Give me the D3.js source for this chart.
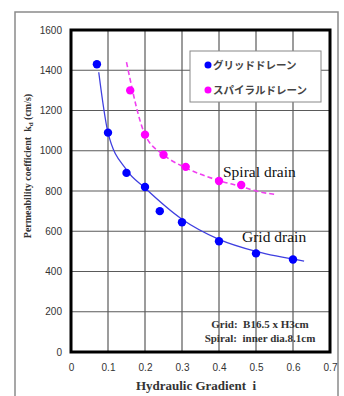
<!DOCTYPE html>
<html>
<head>
<meta charset="utf-8">
<script src="https://cdn.jsdelivr.net/npm/d3@7"></script>
<style>
  body { margin: 0; background: #fff; }
  svg { display: block; }
</style>
</head>
<body>
<script>
// Measured points
const gridX = [0.07, 0.1, 0.15, 0.2, 0.24, 0.3, 0.4, 0.5, 0.6];
const gridK = [1430, 1090, 890, 820, 700, 645, 550, 490, 460];
const spiralX = [0.16, 0.2, 0.25, 0.31, 0.4, 0.46];
const spiralK = [1300, 1080, 980, 920, 850, 830];

// Trend curves
const gridFitX = [0.075, 0.1, 0.15, 0.2, 0.3, 0.4, 0.5, 0.63];
const gridFitK = [1390, 1090, 905, 815, 660, 560, 500, 452];
const spiralFitX = [0.15, 0.2, 0.25, 0.31, 0.4, 0.46, 0.5, 0.555];
const spiralFitK = [1440, 1080, 980, 915, 852, 822, 800, 782];

const xTicks = [0, 0.1, 0.2, 0.3, 0.4, 0.5, 0.6, 0.7];
const yTicks = [0, 200, 400, 600, 800, 1000, 1200, 1400, 1600];
const legendNames = ["グリッドドレーン", "スパイラルドレーン"];
const colors = ["#0000ff", "#ff00ff"];

const w = 344, h = 396;
const pLeft = 71, pRight = 330, pTop = 30, pBottom = 352;

const svg = d3.select("body").append("svg")
  .attr("width", w)
  .attr("height", h);

// outer frame
svg.append("rect")
  .attr("x", 15).attr("y", 12)
  .attr("width", 323).attr("height", 390)
  .attr("fill", "#fff")
  .attr("stroke", "#8a8a8a")
  .attr("stroke-width", 1.5);

const xScale = d3.scaleLinear().domain([0, 0.7]).range([pLeft, pRight]);
const yScale = d3.scaleLinear().domain([0, 1600]).range([pBottom, pTop]);

// gridlines
svg.append("g").selectAll("line")
  .data(xTicks.slice(1, -1))
  .enter().append("line")
  .attr("x1", d => xScale(d)).attr("x2", d => xScale(d))
  .attr("y1", pTop).attr("y2", pBottom)
  .attr("stroke", "#5a5a5a").attr("stroke-width", 1.2);

svg.append("g").selectAll("line")
  .data(yTicks.slice(1, -1))
  .enter().append("line")
  .attr("x1", pLeft).attr("x2", pRight)
  .attr("y1", d => yScale(d)).attr("y2", d => yScale(d))
  .attr("stroke", "#5a5a5a").attr("stroke-width", 1.2);

// axes labels
const xAxis = d3.axisBottom(xScale).tickValues(xTicks).tickSize(0).tickPadding(12)
  .tickFormat(d => d === 0 ? "0" : d3.format(".1f")(d));
const yAxis = d3.axisLeft(yScale).tickValues(yTicks).tickSize(0).tickPadding(9)
  .tickFormat(d3.format("d"));

const gx = svg.append("g").attr("transform", `translate(0,${pBottom})`).call(xAxis);
const gy = svg.append("g").attr("transform", `translate(${pLeft},0)`).call(yAxis);
[gx, gy].forEach(g => {
  g.select(".domain").remove();
  g.selectAll("text")
    .style("font-family", "Arial, 'Liberation Sans', sans-serif")
    .style("font-size", "10px")
    .style("fill", "#333");
});

// legend box
const legend = svg.append("g");
legend.append("rect")
  .attr("x", 190).attr("y", 51)
  .attr("width", 131).attr("height", 51)
  .attr("fill", "#fff")
  .attr("stroke", "#888")
  .attr("stroke-width", 1);
legendNames.forEach((name, i) => {
  legend.append("circle")
    .attr("cx", 208).attr("cy", 65 + i * 25)
    .attr("r", 3.5)
    .attr("fill", colors[i]);
  legend.append("text")
    .attr("x", 213).attr("y", 69 + i * 25)
    .text(name)
    .style("font-family", "'Noto Sans CJK JP', sans-serif")
    .style("font-size", "10.5px")
    .style("font-weight", "bold")
    .style("fill", "#444");
});

// trend curves
const line = d3.line()
  .x(d => xScale(d[0]))
  .y(d => yScale(d[1]))
  .curve(d3.curveMonotoneX);

svg.append("path")
  .attr("d", line(d3.zip(gridFitX, gridFitK)))
  .attr("fill", "none")
  .attr("stroke", "#3f3fe0")
  .attr("stroke-width", 1.3);

svg.append("path")
  .attr("d", line(d3.zip(spiralFitX, spiralFitK)))
  .attr("fill", "none")
  .attr("stroke", "#f040f0")
  .attr("stroke-width", 1.6)
  .attr("stroke-dasharray", "5,3");

// points
svg.append("g").selectAll("circle")
  .data(d3.zip(gridX, gridK))
  .enter().append("circle")
  .attr("cx", d => xScale(d[0]))
  .attr("cy", d => yScale(d[1]))
  .attr("r", 4.2)
  .attr("fill", colors[0]);

svg.append("g").selectAll("circle")
  .data(d3.zip(spiralX, spiralK))
  .enter().append("circle")
  .attr("cx", d => xScale(d[0]))
  .attr("cy", d => yScale(d[1]))
  .attr("r", 4.2)
  .attr("fill", colors[1]);

// plot border
svg.append("rect")
  .attr("x", pLeft).attr("y", pTop)
  .attr("width", pRight - pLeft).attr("height", pBottom - pTop)
  .attr("fill", "none")
  .attr("stroke", "#000")
  .attr("stroke-width", 3);

// annotations
const serif = "'Liberation Serif', 'DejaVu Serif', serif";
svg.append("text")
  .attr("x", 223).attr("y", 177)
  .text("Spiral drain")
  .style("font-family", serif).style("font-size", "15.5px").style("fill", "#111");
svg.append("text")
  .attr("x", 242).attr("y", 242)
  .text("Grid drain")
  .style("font-family", serif).style("font-size", "15.5px").style("fill", "#111");

svg.append("text")
  .attr("x", 260).attr("y", 328)
  .attr("text-anchor", "middle")
  .style("white-space", "pre")
  .text("Grid:  B16.5 x H3cm")
  .style("font-family", serif).style("font-size", "11px").style("font-weight", "bold")
  .style("fill", "#333");
svg.append("text")
  .attr("x", 260).attr("y", 342)
  .attr("text-anchor", "middle")
  .style("white-space", "pre")
  .text("Spiral:  inner dia.8.1cm")
  .style("font-family", serif).style("font-size", "11px").style("font-weight", "bold")
  .style("fill", "#333");

// axis titles
svg.append("text")
  .attr("x", 196).attr("y", 390)
  .attr("text-anchor", "middle")
  .style("white-space", "pre")
  .text("Hydraulic Gradient  i")
  .style("font-family", serif).style("font-size", "13px").style("font-weight", "bold")
  .style("fill", "#333");

const yTitle = svg.append("text")
  .attr("transform", "translate(31,166) rotate(-90)")
  .attr("text-anchor", "middle")
  .style("white-space", "pre")
  .style("font-family", serif).style("font-size", "10px").style("font-weight", "bold")
  .style("fill", "#333");
yTitle.append("tspan").text("Permeability coefficient  k");
yTitle.append("tspan").attr("dy", 2).style("font-size", "7px").text("d");
yTitle.append("tspan").attr("dy", -2).text(" (cm/s)");
</script>
</body>
</html>
